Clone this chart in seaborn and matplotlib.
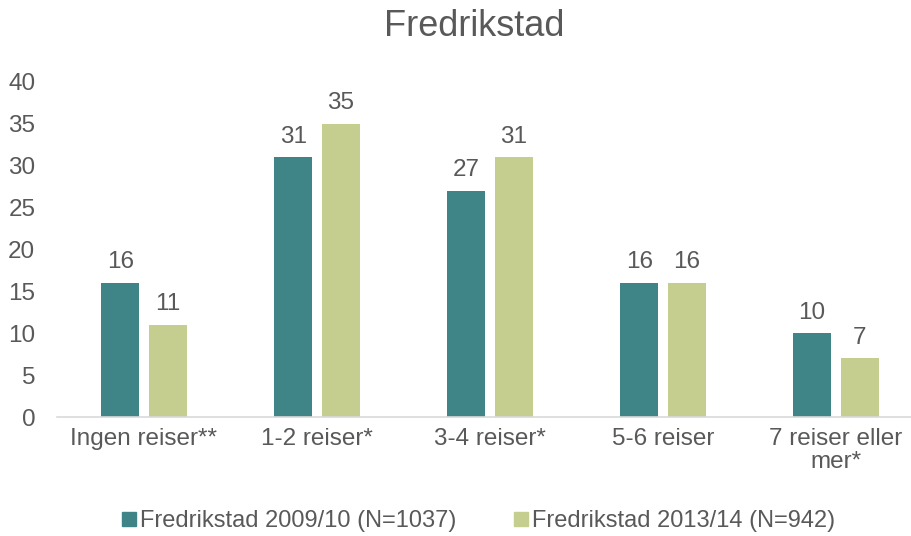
import matplotlib
matplotlib.use("Agg")
import matplotlib.pyplot as plt
import seaborn as sns
import pandas as pd
from matplotlib.lines import Line2D

categories = ["Ingen reiser**", "1-2 reiser*", "3-4 reiser*", "5-6 reiser", "7 reiser eller\nmer*"]
series_names = ["Fredrikstad 2009/10 (N=1037)", "Fredrikstad 2013/14 (N=942)"]
values_2009 = [16, 31, 27, 16, 10]
values_2013 = [11, 35, 31, 16, 7]
colors = ["#3F8588", "#C5CE8E"]
text_color = "#595959"

df = pd.DataFrame({
    "cat": categories * 2,
    "series": [series_names[0]] * 5 + [series_names[1]] * 5,
    "val": values_2009 + values_2013,
})

sns.set_theme(style="white")
plt.rcParams["font.family"] = ["Liberation Sans", "DejaVu Sans"]

fig = plt.figure(figsize=(9.12, 5.36), dpi=100)
ax = fig.add_axes([57.5 / 912, 1 - 417 / 536, 1 - 57.5 / 912, (417 - 82) / 536])

sns.barplot(data=df, x="cat", y="val", hue="series", palette=colors,
            width=0.55, gap=0.2, ax=ax, legend=False, saturation=1, linewidth=0)

for cont in ax.containers:
    ax.bar_label(cont, labels=[f"{int(v)}" for v in cont.datavalues],
                 padding=7, fontsize=17.5, color=text_color)

ax.set_ylim(0, 40)
ax.set_yticks(range(0, 41, 5))
ax.set_xlim(-0.5, 4.44)
ax.set_xlabel("")
ax.set_ylabel("")
ax.tick_params(axis="y", length=0, labelsize=17.5, labelcolor=text_color, pad=16)
ax.tick_params(axis="x", length=0, labelsize=17.5, labelcolor=text_color, pad=8)
for lbl in ax.get_xticklabels():
    lbl.set_linespacing(1.05)
for s in ["top", "right", "left"]:
    ax.spines[s].set_visible(False)
ax.spines["bottom"].set_color("#D9D9D9")
ax.spines["bottom"].set_linewidth(1.2)

fig.text(474 / 912, 1 - 27 / 536, "Fredrikstad", ha="center", va="center",
         fontsize=26, color=text_color)

handles = [Line2D([0], [0], marker="s", linestyle="", markersize=10,
                  markerfacecolor=c, markeredgecolor=c) for c in colors]
fig.legend(handles, series_names, loc="center", bbox_to_anchor=(477 / 912, 1 - 521 / 536),
           ncol=2, frameon=False, fontsize=17, labelcolor=text_color,
           handletextpad=0.0, columnspacing=2.3, handlelength=0.9)

fig.savefig("out.png", dpi=100)
